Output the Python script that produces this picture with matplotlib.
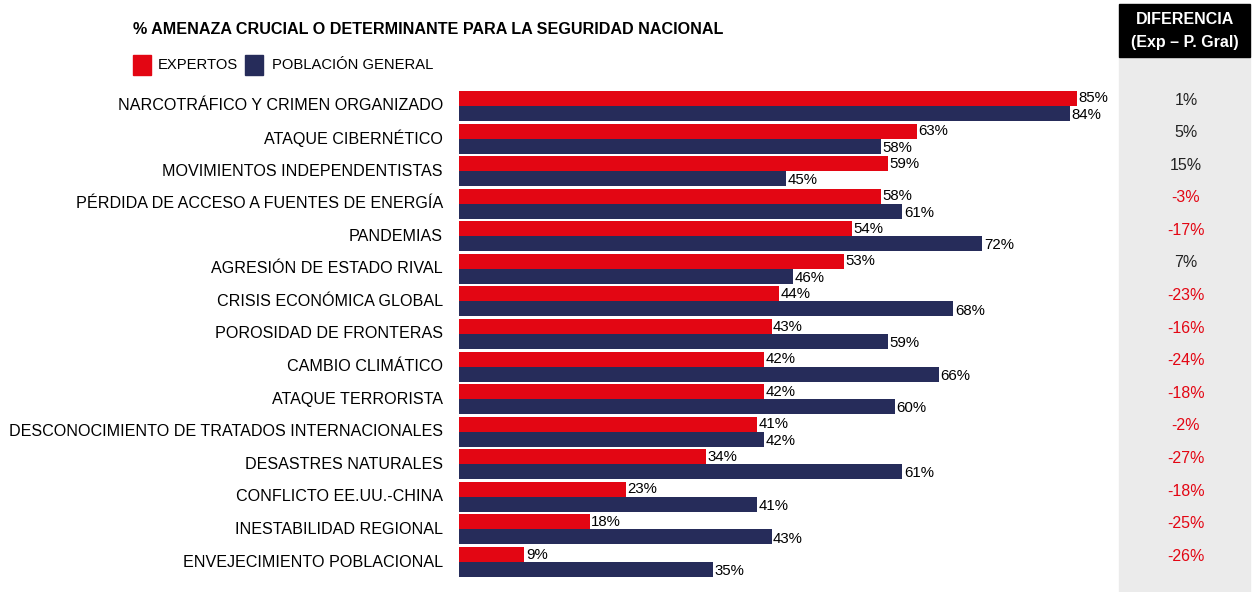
import matplotlib
matplotlib.use("Agg")
import matplotlib.pyplot as plt
import matplotlib.patches as mpatches
import matplotlib.transforms as mtransforms
import numpy as np

plt.rcParams["font.family"] = ["Liberation Sans Narrow", "Liberation Sans", "DejaVu Sans"]

C_EXP = "#e30613"
C_POB = "#262c5a"
C_GRAY = "#ebebeb"

categories = [
    "NARCOTRÁFICO Y CRIMEN ORGANIZADO",
    "ATAQUE CIBERNÉTICO",
    "MOVIMIENTOS INDEPENDENTISTAS",
    "PÉRDIDA DE ACCESO A FUENTES DE ENERGÍA",
    "PANDEMIAS",
    "AGRESIÓN DE ESTADO RIVAL",
    "CRISIS ECONÓMICA GLOBAL",
    "POROSIDAD DE FRONTERAS",
    "CAMBIO CLIMÁTICO",
    "ATAQUE TERRORISTA",
    "DESCONOCIMIENTO DE TRATADOS INTERNACIONALES",
    "DESASTRES NATURALES",
    "CONFLICTO EE.UU.-CHINA",
    "INESTABILIDAD REGIONAL",
    "ENVEJECIMIENTO POBLACIONAL",
]
expertos = [85, 63, 59, 58, 54, 53, 44, 43, 42, 42, 41, 34, 23, 18, 9]
poblacion = [84, 58, 45, 61, 72, 46, 68, 59, 66, 60, 42, 61, 41, 43, 35]
diferencia = [1, 5, 15, -3, -17, 7, -23, -16, -24, -18, -2, -27, -18, -25, -26]

W, H = 1252, 592
fig = plt.figure(figsize=(W / 100, H / 100), dpi=100)

# gray column + black header (behind everything)
fig.patches.append(mpatches.Rectangle((1119 / W, 0), 131 / W, 1 - 57 / H,
                                      transform=fig.transFigure, color=C_GRAY, zorder=-2))
fig.patches.append(mpatches.Rectangle((1119 / W, 1 - 57 / H), 131 / W, 53 / H,
                                      transform=fig.transFigure, color="black", zorder=-2))
fig.text(1185 / W, 1 - 19 / H, "DIFERENCIA", color="white", fontsize=11.5,
         fontweight="bold", ha="center", va="center")
fig.text(1185 / W, 1 - 43 / H, "(Exp – P. Gral)", color="white", fontsize=11.5,
         fontweight="bold", ha="center", va="center")

# title + legend
fig.text(133 / W, 1 - 30 / H, "% AMENAZA CRUCIAL O DETERMINANTE PARA LA SEGURIDAD NACIONAL",
         fontsize=11.6, fontweight="bold", ha="left", va="center")
fig.patches.append(mpatches.Rectangle((133 / W, 1 - 75 / H), 18 / W, 20 / H,
                                      transform=fig.transFigure, color=C_EXP))
fig.text(158 / W, 1 - 65 / H, "EXPERTOS", fontsize=10.6, ha="left", va="center")
fig.patches.append(mpatches.Rectangle((245 / W, 1 - 75 / H), 18 / W, 20 / H,
                                      transform=fig.transFigure, color=C_POB))
fig.text(272 / W, 1 - 65 / H, "POBLACIÓN GENERAL", fontsize=10.6, ha="left", va="center")

# bars
top_px, bot_px = 89.7, 578.3
ax = fig.add_axes([459 / W, 1 - bot_px / H, 727 / W, (bot_px - top_px) / H])
y = np.arange(len(categories))
h = 0.46
ax.barh(y - h / 2, expertos, height=h, color=C_EXP)
ax.barh(y + h / 2, poblacion, height=h, color=C_POB)
ax.set_xlim(0, 100)
ax.set_ylim(len(categories) - 0.5, -0.5)
ax.axis("off")

for i, (e, p) in enumerate(zip(expertos, poblacion)):
    ax.text(e + 0.2, i - h / 2, f"{e}%", fontsize=10.8, ha="left", va="center")
    ax.text(p + 0.2, i + h / 2 + 0.05, f"{p}%", fontsize=10.8, ha="left", va="center")

lab_tr = mtransforms.blended_transform_factory(fig.transFigure, ax.transData)
for i, cat in enumerate(categories):
    ax.text(443 / W, i, cat, transform=lab_tr, fontsize=11.6, ha="right", va="center")
for i, d in enumerate(diferencia):
    ax.text(1186 / W, i - h / 2 + 0.05, f"{d}%", transform=lab_tr, fontsize=11.5,
            ha="center", va="center", color=C_EXP if d < 0 else "#222222")

fig.savefig("out.png", dpi=100)
